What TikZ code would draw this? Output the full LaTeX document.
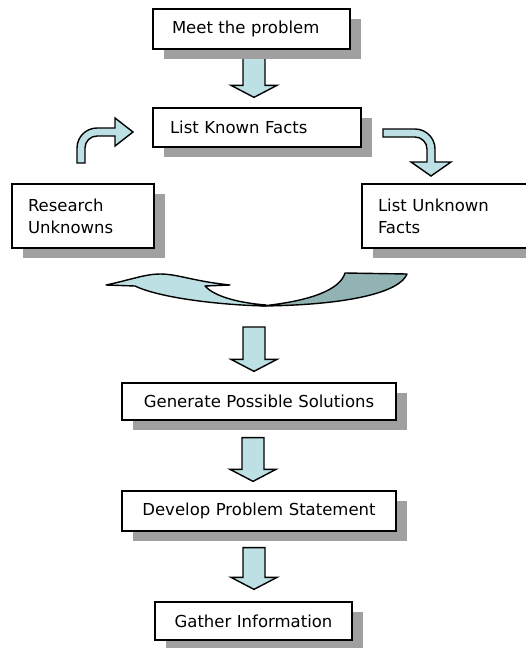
\documentclass[tikz,border=0pt]{standalone}
\usepackage{fontspec}
\setmainfont{DejaVu Sans}
\usetikzlibrary{shadows,calc}
\definecolor{arrowfill}{HTML}{BCE0E3}
\definecolor{arrowdark}{HTML}{91B3B3}
\definecolor{shadowgray}{HTML}{A0A0A0}
\pgfdeclarelayer{background}
\pgfsetlayers{background,main}
\tikzset{
  box/.style={draw=black, line width=1.3pt, fill=white, inner sep=0pt,
    general shadow={fill=shadowgray, shadow xshift=11pt, shadow yshift=-10pt},
    font=\fontsize{16.5}{22}\selectfont},
  barrow/.style={draw=black, line width=1.4pt, fill=arrowfill, line join=miter},
  darkband/.style={draw=black, line width=1.4pt, fill=arrowdark, line join=round},
}
\newcommand{\blockarrow}[5]{%
  \draw[barrow] let \p1=#2, \p2=#4 in
    (#1pt-11pt,\y1-#3pt) -- (#1pt+11pt,\y1-#3pt) -- (#1pt+11pt,\y2+#5pt+12pt)
    -- (#1pt+23pt,\y2+#5pt+12pt) -- (#1pt,\y2+#5pt) -- (#1pt-23pt,\y2+#5pt+12pt)
    -- (#1pt-11pt,\y2+#5pt+12pt) -- cycle;}
\begin{document}
\begin{tikzpicture}[x=1pt,y=-1pt]
\useasboundingbox (0,0) rectangle (526,648);
\clip (0,0) rectangle (526,648);

% boxes
\node[box, minimum width=197pt, minimum height=40pt, text width=159pt, align=left] (meet) at (251.5,29) {Meet the problem};
\node[box, minimum width=208pt, minimum height=39pt, text width=174pt, align=left] (known) at (257,127.5) {List Known Facts};
\node[box, minimum width=142pt, minimum height=64pt, text width=110pt, align=left] (research) at (83,216) {Research\\Unknowns};
\node[box, minimum width=200pt, minimum height=64pt, text width=168pt, align=left] (unknown) at (462,216) {List Unknown\\Facts};
\node[box, minimum width=274pt, minimum height=37pt, text width=250pt, align=center] (gen) at (259,401.5) {Generate Possible Solutions};
\node[box, minimum width=274pt, minimum height=40pt, text width=250pt, align=center] (dev) at (259,511) {Develop Problem Statement};
\node[box, minimum width=197pt, minimum height=38pt, text width=180pt, align=center] (gat) at (253.5,621) {Gather Information};

% big curved arrow
\draw[darkband] (345,273) -- (407,274) .. controls (400,292) and (350,305) .. (262,306)
  .. controls (310,301) and (340,290) .. (345,273) -- cycle;
\draw[barrow, line join=round] (266,306) .. controls (220,305) and (160,298) .. (135,286)
  -- (106,285) .. controls (130,280) and (145,274) .. (160,274)
  .. controls (178,274) and (192,281) .. (230,285) -- (205,286)
  .. controls (215,297) and (240,303) .. (266,305) -- cycle;
\coordinate (curvebot) at (254,307);

% small curved arrows
\draw[barrow] (77,163) -- (77,148) .. controls (77,137) and (86,128) .. (97,128)
  -- (115,128) -- (115,118) -- (133,132) -- (115,146) -- (115,136) -- (97,136)
  .. controls (90.4,136) and (85,141.4) .. (85,148) -- (85,163) -- cycle;
\draw[barrow] (383,129) -- (415,129) .. controls (426,129) and (435,138) .. (435,149)
  -- (435,162) -- (451,162) -- (431,176) -- (411,162) -- (427,162) -- (427,149)
  .. controls (427,142.4) and (421.6,137) .. (415,137) -- (383,137) -- cycle;

% block arrows
\begin{pgfonlayer}{background}
\blockarrow{254}{(meet.south)}{4}{(known.north)}{10}
\blockarrow{254}{(curvebot)}{20}{(gen.north)}{11}
\blockarrow{253}{(gen.south)}{17}{(dev.north)}{9}
\blockarrow{254}{(dev.south)}{16}{(gat.north)}{12}
\end{pgfonlayer}
\end{tikzpicture}
\end{document}
